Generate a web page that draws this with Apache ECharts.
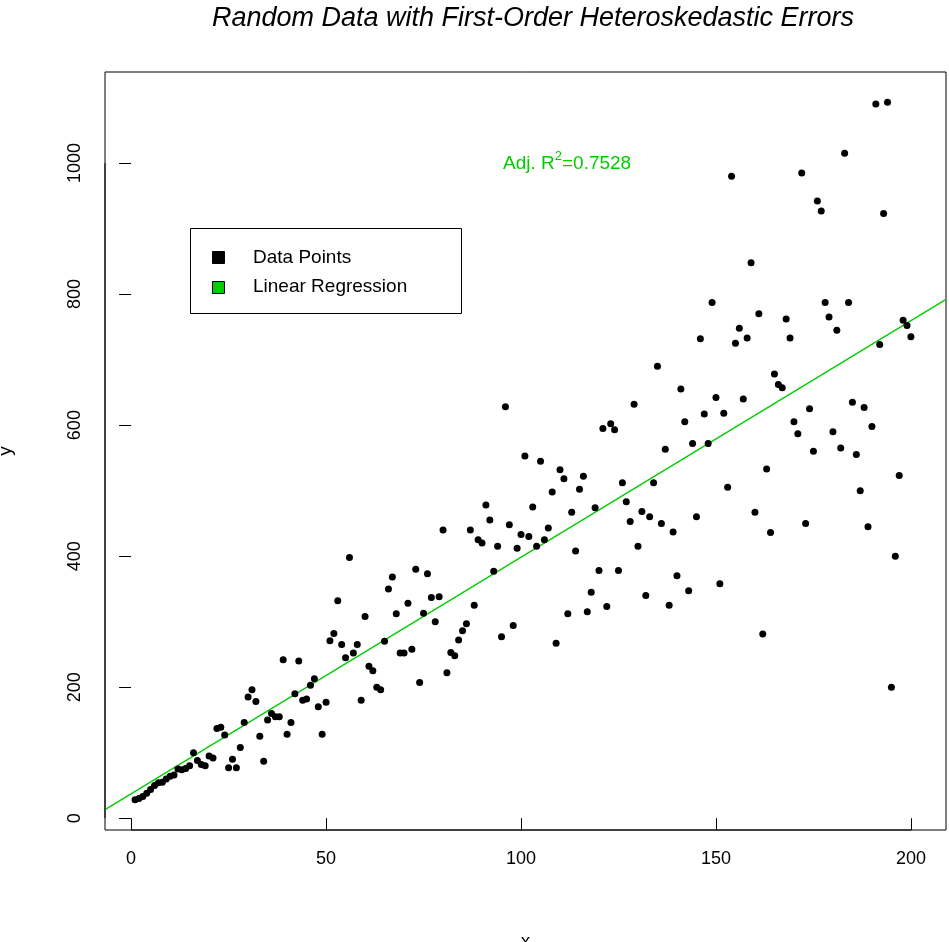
<!DOCTYPE html>
<html><head><meta charset="utf-8">
<script src="https://cdn.jsdelivr.net/npm/echarts@6/dist/echarts.min.js"></script>
<style>html,body{margin:0;padding:0;background:#fff}#c{width:949px;height:942px}</style>
</head><body><div id="c"></div>
<script>
const xValues = [];
for (let i = 1; i <= 200; i++) xValues.push(i);
const yValues = [28,30,33,38,44,50,54,55,60,64,66,75,74,76,80,100,88,82,80,95,
92,137,139,127,77,90,77,108,146,185,196,178,125,87,150,160,155,155,242,128,
146,190,240,180,182,203,213,170,128,177,271,282,332,265,245,398,252,265,180,308,
232,225,200,196,270,350,368,312,252,252,328,258,380,207,313,373,337,300,338,440,
222,253,248,272,286,297,440,325,425,420,478,455,377,415,277,628,448,294,412,433,
553,430,475,415,545,425,443,498,267,532,518,312,467,408,502,522,315,345,474,378,
595,323,602,593,378,512,483,453,632,415,468,340,460,512,690,450,563,325,437,370,
655,605,347,572,460,732,617,572,787,642,358,618,505,980,725,748,640,733,848,467,
770,281,533,436,678,662,657,762,733,605,587,985,450,625,560,942,927,787,765,590,
745,565,1015,787,635,555,500,627,445,598,1090,723,923,1093,200,400,523,760,752,735];
const xTicks = [0,50,100,150,200];
const yTicks = [0,200,400,600,800,1000];
const r2Label = '0.7528';

const pts = xValues.map((x,i)=>[x,yValues[i]]);
const n = pts.length;
let sx=0,sy=0,sxx=0,sxy=0;
pts.forEach(([x,y])=>{sx+=x;sy+=y;sxx+=x*x;sxy+=x*y;});
const b = (n*sxy-sx*sy)/(n*sxx-sx*sx), a = (sy-b*sx)/n;
const XMIN=-6.7, XMAX=209, YMIN=-18, YMAX=1139;
const green = '#00CD00';
const F = 'Liberation Sans, Arial, sans-serif';
const legendGraphics = [
  {type:'rect',left:190,top:228,shape:{width:271,height:85},style:{fill:'#fff',stroke:'#000',lineWidth:1},z:10},
  {type:'rect',left:212,top:251,shape:{width:12,height:12},style:{fill:'#000',stroke:'#000'},z:11},
  {type:'rect',left:212,top:281,shape:{width:12,height:12},style:{fill:green,stroke:'#000'},z:11},
  {type:'text',left:253,top:248,style:{text:'Data Points',font:'19px '+F,fill:'#000'},z:11},
  {type:'text',left:253,top:277,style:{text:'Linear Regression',font:'19px '+F,fill:'#000'},z:11},
  {type:'text',left:503,top:150,style:{text:'{a|Adj. R}{s|2}{a|='+r2Label+'}',
    rich:{a:{fontFamily:F,fontSize:19,fill:green,color:green,verticalAlign:'bottom'},
          s:{fontFamily:F,fontSize:13,fill:green,color:green,verticalAlign:'top',padding:[0,0,10,0]}}},z:11}
];
const chart = echarts.init(document.getElementById('c'));
chart.setOption({
  animation:false,
  title:{text:'Random Data with First-Order Heteroskedastic Errors',left:528,textAlign:'center',top:0,
    textStyle:{fontFamily:F,fontStyle:'italic',fontWeight:'normal',fontSize:27,color:'#000'}},
  grid:{left:105,right:3,top:72,bottom:112,show:true,borderColor:'#000',borderWidth:1,containLabel:false,outerBoundsMode:'none'},
  xAxis:{type:'value',min:XMIN,max:XMAX,name:'x',nameLocation:'middle',nameGap:102,
    nameTextStyle:{fontFamily:F,fontSize:19,color:'#000'},
    axisLine:{show:false},splitLine:{show:false},
    axisTick:{show:true,length:12,inside:false,lineStyle:{color:'#000'},customValues:xTicks},
    axisLabel:{fontFamily:F,fontSize:18,color:'#000',margin:20,customValues:xTicks,formatter:v=>String(v)}},
  yAxis:{type:'value',min:YMIN,max:YMAX,name:'y',nameLocation:'middle',nameGap:90,nameRotate:90,
    nameTextStyle:{fontFamily:F,fontSize:19,color:'#000'},
    axisLine:{show:false},splitLine:{show:false},
    axisTick:{show:true,length:12,inside:false,lineStyle:{color:'#000'},customValues:yTicks},
    axisLabel:{fontFamily:F,fontSize:18,color:'#000',margin:30,rotate:90,customValues:yTicks,formatter:v=>String(v),verticalAlign:'middle',align:'center'}},
  series:[
    {type:'scatter',data:pts,symbolSize:7,itemStyle:{color:'#000',opacity:1},z:3},
    {type:'line',data:[[XMIN,a+b*XMIN],[XMAX,a+b*XMAX]],showSymbol:false,lineStyle:{color:green,width:1.3},z:2,silent:true}
  ]
});
const p0 = chart.convertToPixel({gridIndex:0},[0,0]);
const p1 = chart.convertToPixel({gridIndex:0},[200,1000]);
chart.setOption({graphic:legendGraphics.concat([
  {type:'line',shape:{x1:p0[0],y1:830,x2:p1[0],y2:830},style:{stroke:'#000',lineWidth:1},z:12},
  {type:'line',shape:{x1:105,y1:p0[1],x2:105,y2:p1[1]},style:{stroke:'#000',lineWidth:1},z:12}
])});
</script></body></html>
